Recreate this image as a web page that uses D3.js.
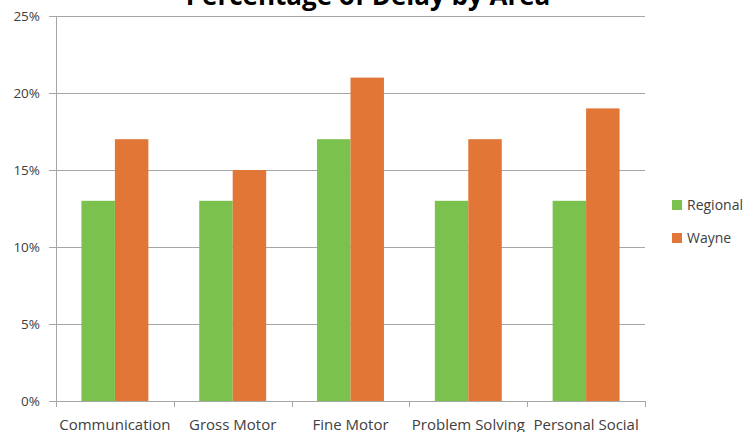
<!DOCTYPE html>
<html><head><meta charset="utf-8">
<script src="https://cdn.jsdelivr.net/npm/d3@7"></script>
<style>body{margin:0;background:#fff}svg{display:block}text{font-family:"Open Sans",sans-serif}</style>
</head><body><svg id="c" width="750" height="432"></svg>
<script>
const categories = ["Communication","Gross Motor","Fine Motor","Problem Solving","Personal Social"];
const seriesNames = ["Regional","Wayne"];
const regional = [13,13,17,13,13];
const wayne = [17,15,21,17,19];
const yTicks = [0,5,10,15,20,25];
const colors = ["#7ac14d","#e27636"];

const svg = d3.select("#c");
const m = {l:56, r:105, t:16, b:31};
const W = 750, H = 432;
const x = d3.scaleBand().domain(categories).range([m.l, W-m.r]).padding(0);
const inner = d3.scaleBand().domain(seriesNames).range([0, x.bandwidth()]).paddingInner(0).paddingOuter(0.76);
const y = d3.scaleLinear().domain([0,25]).range([H-m.b, m.t]);

// gridlines
svg.append("g").selectAll("line").data(yTicks).join("line")
  .attr("x1", m.l-7).attr("x2", W-m.r).attr("y1", d=>y(d)+0.5).attr("y2", d=>y(d)+0.5)
  .attr("stroke","#a6a6a6").attr("stroke-width",1);

// bars
const data = [regional, wayne];
const g = svg.append("g");
categories.forEach((c,i)=>{
  seriesNames.forEach((s,j)=>{
    g.append("rect").attr("x", x(c)+inner(s)).attr("width", inner.bandwidth())
      .attr("y", y(data[j][i])).attr("height", y(0)-y(data[j][i]))
      .attr("fill", colors[j]);
  });
});

// y axis line
svg.append("line").attr("x1",m.l+0.5).attr("x2",m.l+0.5).attr("y1",y(25)).attr("y2",y(0))
  .attr("stroke","#a6a6a6");
// x axis ticks
const bounds = categories.map(c=>x(c)).concat([x(categories[4])+x.bandwidth()]);
svg.append("g").selectAll("line").data(bounds).join("line")
  .attr("x1",d=>Math.round(d)+0.5).attr("x2",d=>Math.round(d)+0.5).attr("y1",y(0)).attr("y2",y(0)+6)
  .attr("stroke","#a6a6a6");

// y labels
svg.append("g").selectAll("text").data(yTicks).join("text")
  .attr("x", 40).attr("y", d=>y(d)+5).attr("text-anchor","end")
  .attr("font-size",13.5).attr("fill","#404040").text(d=>d+"%");
// x labels
svg.append("g").selectAll("text").data(categories).join("text")
  .attr("x", d=>x(d)+x.bandwidth()/2).attr("y", H-2).attr("text-anchor","middle")
  .attr("font-size",15).attr("fill","#404040").text(d=>d);

// title
svg.append("text").attr("x",368).attr("y",5).attr("text-anchor","middle")
  .attr("font-size",26).attr("font-weight","bold").attr("fill","#000").text("Percentage of Delay by Area");

// legend
const lg = svg.append("g");
seriesNames.forEach((s,j)=>{
  const yy = 200 + j*33;
  lg.append("rect").attr("x",672).attr("y",yy).attr("width",10).attr("height",10).attr("fill",colors[j]);
  lg.append("text").attr("x",687).attr("y",yy+10).attr("font-size",14).attr("fill","#404040").text(s);
});
</script></body></html>
